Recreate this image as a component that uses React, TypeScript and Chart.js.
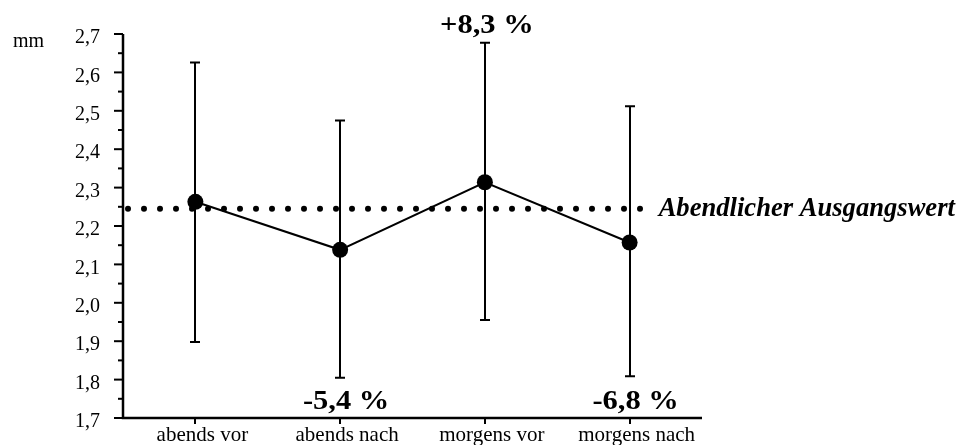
import { useEffect, useRef } from 'react';
import { Chart, registerables } from 'chart.js';

Chart.register(...registerables);

// ---- data ----
const categories = ['abends vor', 'abends nach', 'morgens vor', 'morgens nach'];
const means = [2.263, 2.138, 2.314, 2.157];
const errHigh = [2.626, 2.475, 2.677, 2.512];
const errLow = [1.898, 1.805, 1.955, 1.809];
const baselineValue = 2.245;
const baselineLabel = 'Abendlicher Ausgangswert';
const changeLabels = ['', '-5,4 %', '+8,3 %', '-6,8 %'];
const changeAbove = [false, false, true, false];
const yUnit = 'mm';
const yMin = 1.7;
const yMax = 2.7;
const yStep = 0.1;
const yMinorStep = 0.05;

const SERIF = "'Liberation Serif', 'Times New Roman', serif";

const overlay = {
  id: 'overlay',
  beforeDatasetsDraw(chart: any) {
    const { ctx, chartArea, scales } = chart;
    const xs = scales.x;
    const ys = scales.y;
    ctx.save();
    ctx.strokeStyle = '#000';
    ctx.fillStyle = '#000';

    // dotted baseline
    const dy = ys.getPixelForValue(baselineValue);
    const endX = xs.getPixelForValue(categories.length - 1) + 10;
    for (let px = chartArea.left + 5; px <= endX + 0.5; px += 16) {
      ctx.beginPath();
      ctx.arc(px, dy, 3, 0, Math.PI * 2);
      ctx.fill();
    }

    // error bars
    ctx.lineWidth = 2;
    for (let i = 0; i < categories.length; i++) {
      const px = Math.round(xs.getPixelForValue(i));
      const t = ys.getPixelForValue(errHigh[i]);
      const b = ys.getPixelForValue(errLow[i]);
      ctx.beginPath();
      ctx.moveTo(px, t);
      ctx.lineTo(px, b);
      ctx.moveTo(px - 5, t);
      ctx.lineTo(px + 5, t);
      ctx.moveTo(px - 5, b);
      ctx.lineTo(px + 5, b);
      ctx.stroke();
    }

    // axes
    ctx.lineWidth = 2.5;
    ctx.beginPath();
    ctx.moveTo(chartArea.left, chartArea.top);
    ctx.lineTo(chartArea.left, chartArea.bottom);
    ctx.lineTo(chartArea.right, chartArea.bottom);
    ctx.stroke();

    // y ticks (major + minor)
    ctx.lineWidth = 2;
    const n = Math.round((yMax - yMin) / yMinorStep);
    for (let k = 0; k <= n; k++) {
      const v = yMin + k * yMinorStep;
      const py = ys.getPixelForValue(v);
      const len = k % 2 === 0 ? 9 : 5;
      ctx.beginPath();
      ctx.moveTo(chartArea.left - len, py);
      ctx.lineTo(chartArea.left, py);
      ctx.stroke();
    }
    // x ticks
    for (let i = 0; i < categories.length; i++) {
      const px = Math.round(xs.getPixelForValue(i));
      ctx.beginPath();
      ctx.moveTo(px, chartArea.bottom);
      ctx.lineTo(px, chartArea.bottom + 6);
      ctx.stroke();
    }
    ctx.restore();
  },
  afterDatasetsDraw(chart: any) {
    const { ctx, chartArea, scales } = chart;
    const xs = scales.x;
    const ys = scales.y;
    ctx.save();
    ctx.fillStyle = '#000';

    // unit
    ctx.font = `20px ${SERIF}`;
    ctx.textAlign = 'left';
    ctx.textBaseline = 'alphabetic';
    ctx.fillText(yUnit, 13, 47);

    // baseline label
    const dy = ys.getPixelForValue(baselineValue);
    ctx.font = `italic bold 26.6px ${SERIF}`;
    ctx.fillText(baselineLabel, xs.getPixelForValue(categories.length - 1) + 29, dy + 7);

    // change labels
    ctx.font = `bold 27px ${SERIF}`;
    ctx.textAlign = 'center';
    for (let i = 0; i < categories.length; i++) {
      if (!changeLabels[i]) continue;
      const px = xs.getPixelForValue(i) + (changeAbove[i] ? 2 : 6);
      const py = changeAbove[i] ? ys.getPixelForValue(errHigh[i]) - 10 : chartArea.bottom - 9;
      ctx.save();
      ctx.translate(px, py);
      ctx.scale(1.13, 1);
      ctx.fillText(changeLabels[i], 0, 0);
      ctx.restore();
    }
    ctx.restore();
  },
};

export default function App() {
  const ref = useRef<HTMLCanvasElement>(null);
  useEffect(() => {
    const chart = new Chart(ref.current as HTMLCanvasElement, {
      type: 'line',
      data: {
        labels: categories,
        datasets: [
          {
            data: means,
            borderColor: '#000',
            borderWidth: 2,
            pointRadius: 8,
            pointBackgroundColor: '#000',
            pointBorderColor: '#000',
            pointBorderWidth: 0,
            tension: 0,
            clip: false as any,
          },
        ],
      },
      options: {
        responsive: false,
        animation: false,
        devicePixelRatio: 1,
        events: [],
        layout: { padding: { top: 34, right: 262, bottom: 0, left: 0 } },
        plugins: { legend: { display: false }, tooltip: { enabled: false } },
        scales: {
          x: {
            type: 'category',
            offset: true,
            grid: { display: false, drawTicks: false },
            border: { display: false },
            ticks: {
              color: '#000',
              font: { family: SERIF, size: 21 },
              padding: 5,
              labelOffset: 7,
              maxRotation: 0,
              autoSkip: false,
            },
            afterFit(scale: any) {
              scale.height = 27;
              scale.paddingLeft = 0;
              scale.paddingRight = 0;
            },
          },
          y: {
            type: 'linear',
            min: yMin,
            max: yMax,
            grid: { display: false, drawTicks: false },
            border: { display: false },
            ticks: {
              stepSize: yStep,
              color: '#000',
              font: { family: SERIF, size: 20 },
              padding: 23,
              labelOffset: 4,
              callback: (v: any) => Number(v).toFixed(1).replace('.', ','),
            },
            afterFit(scale: any) {
              scale.width = 123;
              scale.paddingTop = 0;
              scale.paddingBottom = 0;
            },
          },
        },
      },
      plugins: [overlay],
    });
    return () => chart.destroy();
  }, []);
  return (
    <div style={{ position: 'fixed', left: 0, top: 0, width: 964, height: 445, background: '#fff' }}>
      <canvas ref={ref} width={964} height={445} style={{ display: 'block' }} />
    </div>
  );
}
